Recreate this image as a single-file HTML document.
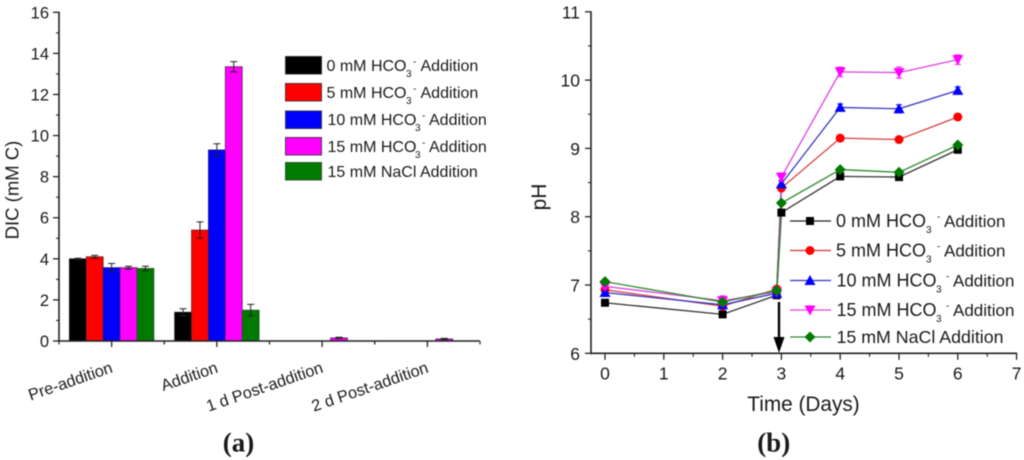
<!DOCTYPE html>
<html>
<head>
<meta charset="utf-8">
<style>
html,body{margin:0;padding:0;background:#fff;width:1024px;height:460px;overflow:hidden}
svg{display:block;filter:blur(0.45px)}
text{font-family:"Liberation Sans",sans-serif;fill:#1a1a1a}
.lg{font-size:16px}
.sm{font-size:10px}
.lb{font-size:17px}
.pre{font-size:18px}
</style>
</head>
<body>
<svg id="fig" width="1024" height="460" viewBox="0 0 1024 460">
  <g id="chartA">
    <text transform="translate(18.5,190) rotate(-90)" text-anchor="middle" font-size="18.5">DIC (mM C)</text>
  </g>
  <g>
    <g><rect x="285.5" y="56.5" width="36" height="17.5" fill="#000" stroke="#333"/><text class="lg" y="71"><tspan x="326.5">0 mM HCO</tspan><tspan class="sm" x="406" y="77">3</tspan><tspan class="sm" x="413" y="65">-</tspan><tspan x="420.5" y="71">Addition</tspan></text></g>
    <g><rect x="285.5" y="83.5" width="36" height="17.5" fill="#f00" stroke="#533"/><text class="lg" y="98"><tspan x="326.5">5 mM HCO</tspan><tspan class="sm" x="406" y="104">3</tspan><tspan class="sm" x="413" y="92">-</tspan><tspan x="420.5" y="98">Addition</tspan></text></g>
    <g><rect x="285.5" y="111" width="36" height="17.5" fill="#00f" stroke="#335"/><text class="lg" y="125"><tspan x="327.5">10 mM HCO</tspan><tspan class="sm" x="415" y="131">3</tspan><tspan class="sm" x="422" y="119">-</tspan><tspan x="429" y="125">Addition</tspan></text></g>
    <g><rect x="285.5" y="137.5" width="36" height="17.5" fill="#f0f" stroke="#535"/><text class="lg" y="152"><tspan x="327.5">15 mM HCO</tspan><tspan class="sm" x="415" y="158">3</tspan><tspan class="sm" x="422" y="146">-</tspan><tspan x="429" y="152">Addition</tspan></text></g>
    <g><rect x="285.5" y="162.5" width="36" height="17.5" fill="#007a00" stroke="#353"/><text class="lg" y="177" x="327.5">15 mM NaCl Addition</text></g>
  </g>
  <text x="238.5" y="451.5" text-anchor="middle" font-size="27" font-weight="bold" style="font-family:'Liberation Serif',serif">(a)</text>

  <g id="chartB">
    <text transform="translate(546,197) rotate(-90)" text-anchor="middle" font-size="21">pH</text>
    <text x="803.5" y="411" text-anchor="middle" font-size="20.8">Time (Days)</text>
  </g>
  <g>
    <g><line x1="790" x2="831" y1="221" y2="221" stroke="#222" stroke-width="1.2"/><rect x="806" y="217" width="8" height="8" fill="#000"/><text class="lb" y="227"><tspan class="pre" x="836">0 mM HCO</tspan><tspan class="sm" x="926" y="233">3</tspan><tspan class="sm" x="937" y="220">-</tspan><tspan x="944" y="227">Addition</tspan></text></g>
    <g><line x1="790" x2="831" y1="250.5" y2="250.5" stroke="#d03030" stroke-width="1.2"/><circle cx="810" cy="250.5" r="4.5" fill="#f00"/><text class="lb" y="256.5"><tspan class="pre" x="836">5 mM HCO</tspan><tspan class="sm" x="926" y="262.5">3</tspan><tspan class="sm" x="937" y="249.5">-</tspan><tspan x="944" y="256.5">Addition</tspan></text></g>
    <g><line x1="790" x2="831" y1="280.5" y2="280.5" stroke="#3030c0" stroke-width="1.2"/><path d="M810 275l5.5 10h-11z" fill="#00f"/><text class="lb" y="286.5"><tspan class="pre" x="836.5">10 mM HCO</tspan><tspan class="sm" x="936" y="292.5">3</tspan><tspan class="sm" x="946" y="279.5">-</tspan><tspan x="953" y="286.5">Addition</tspan></text></g>
    <g><line x1="790" x2="831" y1="310" y2="310" stroke="#e040e0" stroke-width="1.2"/><path d="M810 315.5l5.5-10h-11z" fill="#f0f"/><text class="lb" y="316"><tspan class="pre" x="836.5">15 mM HCO</tspan><tspan class="sm" x="936" y="322">3</tspan><tspan class="sm" x="946" y="309">-</tspan><tspan x="953" y="316">Addition</tspan></text></g>
    <g><line x1="790" x2="831" y1="337" y2="337" stroke="#2e8b2e" stroke-width="1.2"/><path d="M810 331.5l5.5 5.5-5.5 5.5-5.5-5.5z" fill="#007a00"/><text class="lb" x="836.5" y="343" style="font-size:17.8px">15 mM NaCl Addition</text></g>
  </g>
  <g>
    <line x1="779" x2="779" y1="302" y2="340" stroke="#000" stroke-width="2.4"/>
    <path d="M773.5 337h11l-5.5 16z" fill="#000"/>
  </g>
  <text x="773.7" y="451.5" text-anchor="middle" font-size="27" font-weight="bold" style="font-family:'Liberation Serif',serif">(b)</text>
</svg>
<script>
// ---- Panel (a) data ----
const barCategories = ['Pre-addition', 'Addition', '1 d Post-addition', '2 d Post-addition'];
const barBlack = [4.0, 1.4, 0, 0];
const barRed = [4.1, 5.4, 0, 0];
const barBlue = [3.57, 9.3, 0, 0];
const barMagenta = [3.57, 13.35, 0.15, 0.1];
const barGreen = [3.53, 1.5, 0, 0];
const errBlack = [0.03, 0.17, 0, 0];
const errRed = [0.07, 0.4, 0, 0];
const errBlue = [0.2, 0.3, 0, 0];
const errMagenta = [0.07, 0.25, 0.03, 0.03];
const errGreen = [0.11, 0.28, 0, 0];
const barTicks = [0, 2, 4, 6, 8, 10, 12, 14, 16];

// ---- Panel (b) data ----
const days = [0, 2, 2.92, 3, 4, 5, 6];
const phBlack = [6.74, 6.57, 6.85, 8.06, 8.59, 8.58, 8.98];
const phRed = [6.93, 6.69, 6.94, 8.42, 9.15, 9.13, 9.46];
const phBlue = [6.89, 6.71, 6.88, 8.48, 9.6, 9.58, 9.85];
const phMagenta = [6.98, 6.77, 6.9, 8.58, 10.12, 10.11, 10.3];
const phGreen = [7.05, 6.75, 6.92, 8.2, 8.69, 8.65, 9.05];
const phErrBlack = [0.02, 0.02, 0.02, 0.03, 0.03, 0.03, 0.03];
const phErrRed = [0.02, 0.03, 0.03, 0.03, 0.03, 0.03, 0.02];
const phErrBlue = [0.03, 0.04, 0.03, 0.05, 0.05, 0.06, 0.05];
const phErrMagenta = [0.03, 0.07, 0.03, 0.06, 0.07, 0.08, 0.07];
const phErrGreen = [0.03, 0.03, 0.03, 0.03, 0.03, 0.03, 0.03];
const phXTicks = [0, 1, 2, 3, 4, 5, 6, 7];
const phYTicks = [6, 7, 8, 9, 10, 11];

const NS = 'http://www.w3.org/2000/svg';
function mk(parent, tag, attrs, text) {
  const e = document.createElementNS(NS, tag);
  for (const k in attrs) e.setAttribute(k, attrs[k]);
  if (text !== undefined) e.textContent = text;
  parent.appendChild(e);
  return e;
}
const AXC = '#222';

// ---- Chart A ----
const gA = document.getElementById('chartA');
const aX0 = 59, aX1 = 480, aY0 = 341, aY16 = 12.3;
const ay = v => aY0 - (v / 16) * (aY0 - aY16);
const catW = (aX1 - aX0) / barCategories.length;
const barW = 16.9;
const ax = i => aX0 + catW * (i + 0.5);
const barSeries = [
  { name: 'black', vals: barBlack, errs: errBlack, fill: '#000', stroke: '#222' },
  { name: 'red', vals: barRed, errs: errRed, fill: '#f00', stroke: '#622' },
  { name: 'blue', vals: barBlue, errs: errBlue, fill: '#00f', stroke: '#226' },
  { name: 'magenta', vals: barMagenta, errs: errMagenta, fill: '#f0f', stroke: '#525' },
  { name: 'green', vals: barGreen, errs: errGreen, fill: '#007a00', stroke: '#252' }
];
barSeries.forEach((s, si) => {
  s.vals.forEach((v, i) => {
    if (v <= 0) return;
    const x = ax(i) + (si - 2.5) * barW;
    const r = mk(gA, 'rect', { x: x, y: ay(v), width: barW, height: aY0 - ay(v), fill: s.fill, stroke: s.stroke, 'stroke-width': 0.8 });
    
    
    const cx = x + barW / 2, t = ay(v + s.errs[i]), b = ay(v - s.errs[i]);
    const eb = mk(gA, 'path', { d: `M${cx - 3.5} ${t}h7M${cx} ${t}V${b}M${cx - 3.5} ${b}h7`, stroke: '#222', 'stroke-width': 1, fill: 'none' });
    
    
  });
});
const aAxisY = mk(gA, 'line', { x1: aX0, x2: aX0, y1: aY16 - 0.5, y2: aY0 + 1, stroke: AXC, 'stroke-width': 1.6 });


const aAxisX = mk(gA, 'line', { x1: aX0, x2: aX1, y1: aY0, y2: aY0, stroke: AXC, 'stroke-width': 1.6 });


barTicks.forEach((v, i) => {
  const tk = mk(gA, 'line', { x1: aX0 - 6, x2: aX0, y1: ay(v), y2: ay(v), stroke: AXC, 'stroke-width': 1.3 });
  
  
  const lb = mk(gA, 'text', { x: 49, y: ay(v) + 6, 'text-anchor': 'end', 'font-size': 16.5 }, String(v));
  
  
  if (i < barTicks.length - 1) {
    const m = mk(gA, 'line', { x1: aX0 - 3, x2: aX0, y1: ay(v + 1), y2: ay(v + 1), stroke: AXC, 'stroke-width': 1.1 });
    
    
  }
});
barCategories.forEach((c, i) => {
  const x = ax(i);
  const tk = mk(gA, 'line', { x1: x, x2: x, y1: aY0, y2: aY0 + 6, stroke: AXC, 'stroke-width': 1.3 });
  
  
  const m0 = mk(gA, 'line', { x1: x - catW / 2, x2: x - catW / 2, y1: aY0, y2: aY0 + 3.5, stroke: AXC, 'stroke-width': 1.1 });
  
  
  const m1 = mk(gA, 'line', { x1: x + catW / 2, x2: x + catW / 2, y1: aY0, y2: aY0 + 3.5, stroke: AXC, 'stroke-width': 1.1 });
  
  
  const lb = mk(gA, 'text', { 'text-anchor': 'end', 'font-size': 16.3, transform: `translate(${x + 2},372) rotate(-19)` }, c);
  
  
});

// ---- Chart B ----
const gB = document.getElementById('chartB');
const bLeft = 591, bY6 = 353.3, bUnitY = 68.3, bX0 = 605, bUnitX = 58.8;
const px = d => bX0 + d * bUnitX;
const py = v => bY6 - (v - 6) * bUnitY;
const bAxisY = mk(gB, 'line', { x1: bLeft, x2: bLeft, y1: py(11) - 0.5, y2: bY6 + 1, stroke: AXC, 'stroke-width': 1.6 });


const bAxisX = mk(gB, 'line', { x1: bLeft, x2: px(7) + 0.5, y1: bY6, y2: bY6, stroke: AXC, 'stroke-width': 1.6 });


phYTicks.forEach((v, i) => {
  const tk = mk(gB, 'line', { x1: bLeft - 6, x2: bLeft, y1: py(v), y2: py(v), stroke: AXC, 'stroke-width': 1.3 });
  
  
  const lb = mk(gB, 'text', { x: 580, y: py(v) + 6.5, 'text-anchor': 'end', 'font-size': 17.5 }, String(v));
  
  
  if (i < phYTicks.length - 1) {
    const m = mk(gB, 'line', { x1: bLeft - 3, x2: bLeft, y1: py(v + 0.5), y2: py(v + 0.5), stroke: AXC, 'stroke-width': 1.1 });
    
    
  }
});
phXTicks.forEach((v, i) => {
  const tk = mk(gB, 'line', { x1: px(v), x2: px(v), y1: bY6, y2: bY6 + 6.5, stroke: AXC, 'stroke-width': 1.3 });
  
  
  const lb = mk(gB, 'text', { x: px(v), y: 379.5, 'text-anchor': 'middle', 'font-size': 17.5 }, String(v));
  
  
  if (i < phXTicks.length - 1) {
    const m = mk(gB, 'line', { x1: px(v + 0.5), x2: px(v + 0.5), y1: bY6, y2: bY6 + 3.5, stroke: AXC, 'stroke-width': 1.1 });
    
    
  }
});
const lineSeries = [
  { name: 'black', vals: phBlack, errs: phErrBlack, line: '#333', fill: '#000', shape: 'square' },
  { name: 'red', vals: phRed, errs: phErrRed, line: '#d84040', fill: '#f00', shape: 'circle' },
  { name: 'blue', vals: phBlue, errs: phErrBlue, line: '#3a3ac0', fill: '#00f', shape: 'up' },
  { name: 'magenta', vals: phMagenta, errs: phErrMagenta, line: '#e040e0', fill: '#f0f', shape: 'down' },
  { name: 'green', vals: phGreen, errs: phErrGreen, line: '#2e8b2e', fill: '#007a00', shape: 'diamond' }
];
lineSeries.forEach(s => {
  const pts = s.vals.map((v, i) => px(days[i]) + ',' + py(v)).join(' ');
  const ln = mk(gB, 'polyline', { points: pts, fill: 'none', stroke: s.line, 'stroke-width': 1.3 });
  
  
});
lineSeries.forEach(s => {
  s.vals.forEach((v, i) => {
    const x = px(days[i]), y = py(v);
    const eb = mk(gB, 'path', { d: `M${x - 3} ${py(v + s.errs[i])}h6M${x} ${py(v + s.errs[i])}V${py(v - s.errs[i])}M${x - 3} ${py(v - s.errs[i])}h6`, stroke: s.fill, 'stroke-width': 1, fill: 'none' });
    
    
    let mark;
    if (s.shape === 'square') mark = mk(gB, 'rect', { x: x - 4, y: y - 4, width: 8, height: 8, fill: s.fill });
    else if (s.shape === 'circle') mark = mk(gB, 'circle', { cx: x, cy: y, r: 4.5, fill: s.fill });
    else if (s.shape === 'up') mark = mk(gB, 'path', { d: `M${x} ${y - 5.5}l5.5 10h-11z`, fill: s.fill });
    else if (s.shape === 'down') mark = mk(gB, 'path', { d: `M${x} ${y + 5.5}l5.5-10h-11z`, fill: s.fill });
    else mark = mk(gB, 'path', { d: `M${x} ${y - 5.5}l5.5 5.5-5.5 5.5-5.5-5.5z`, fill: s.fill });
    
    
  });
});
</script>
</body>
</html>
